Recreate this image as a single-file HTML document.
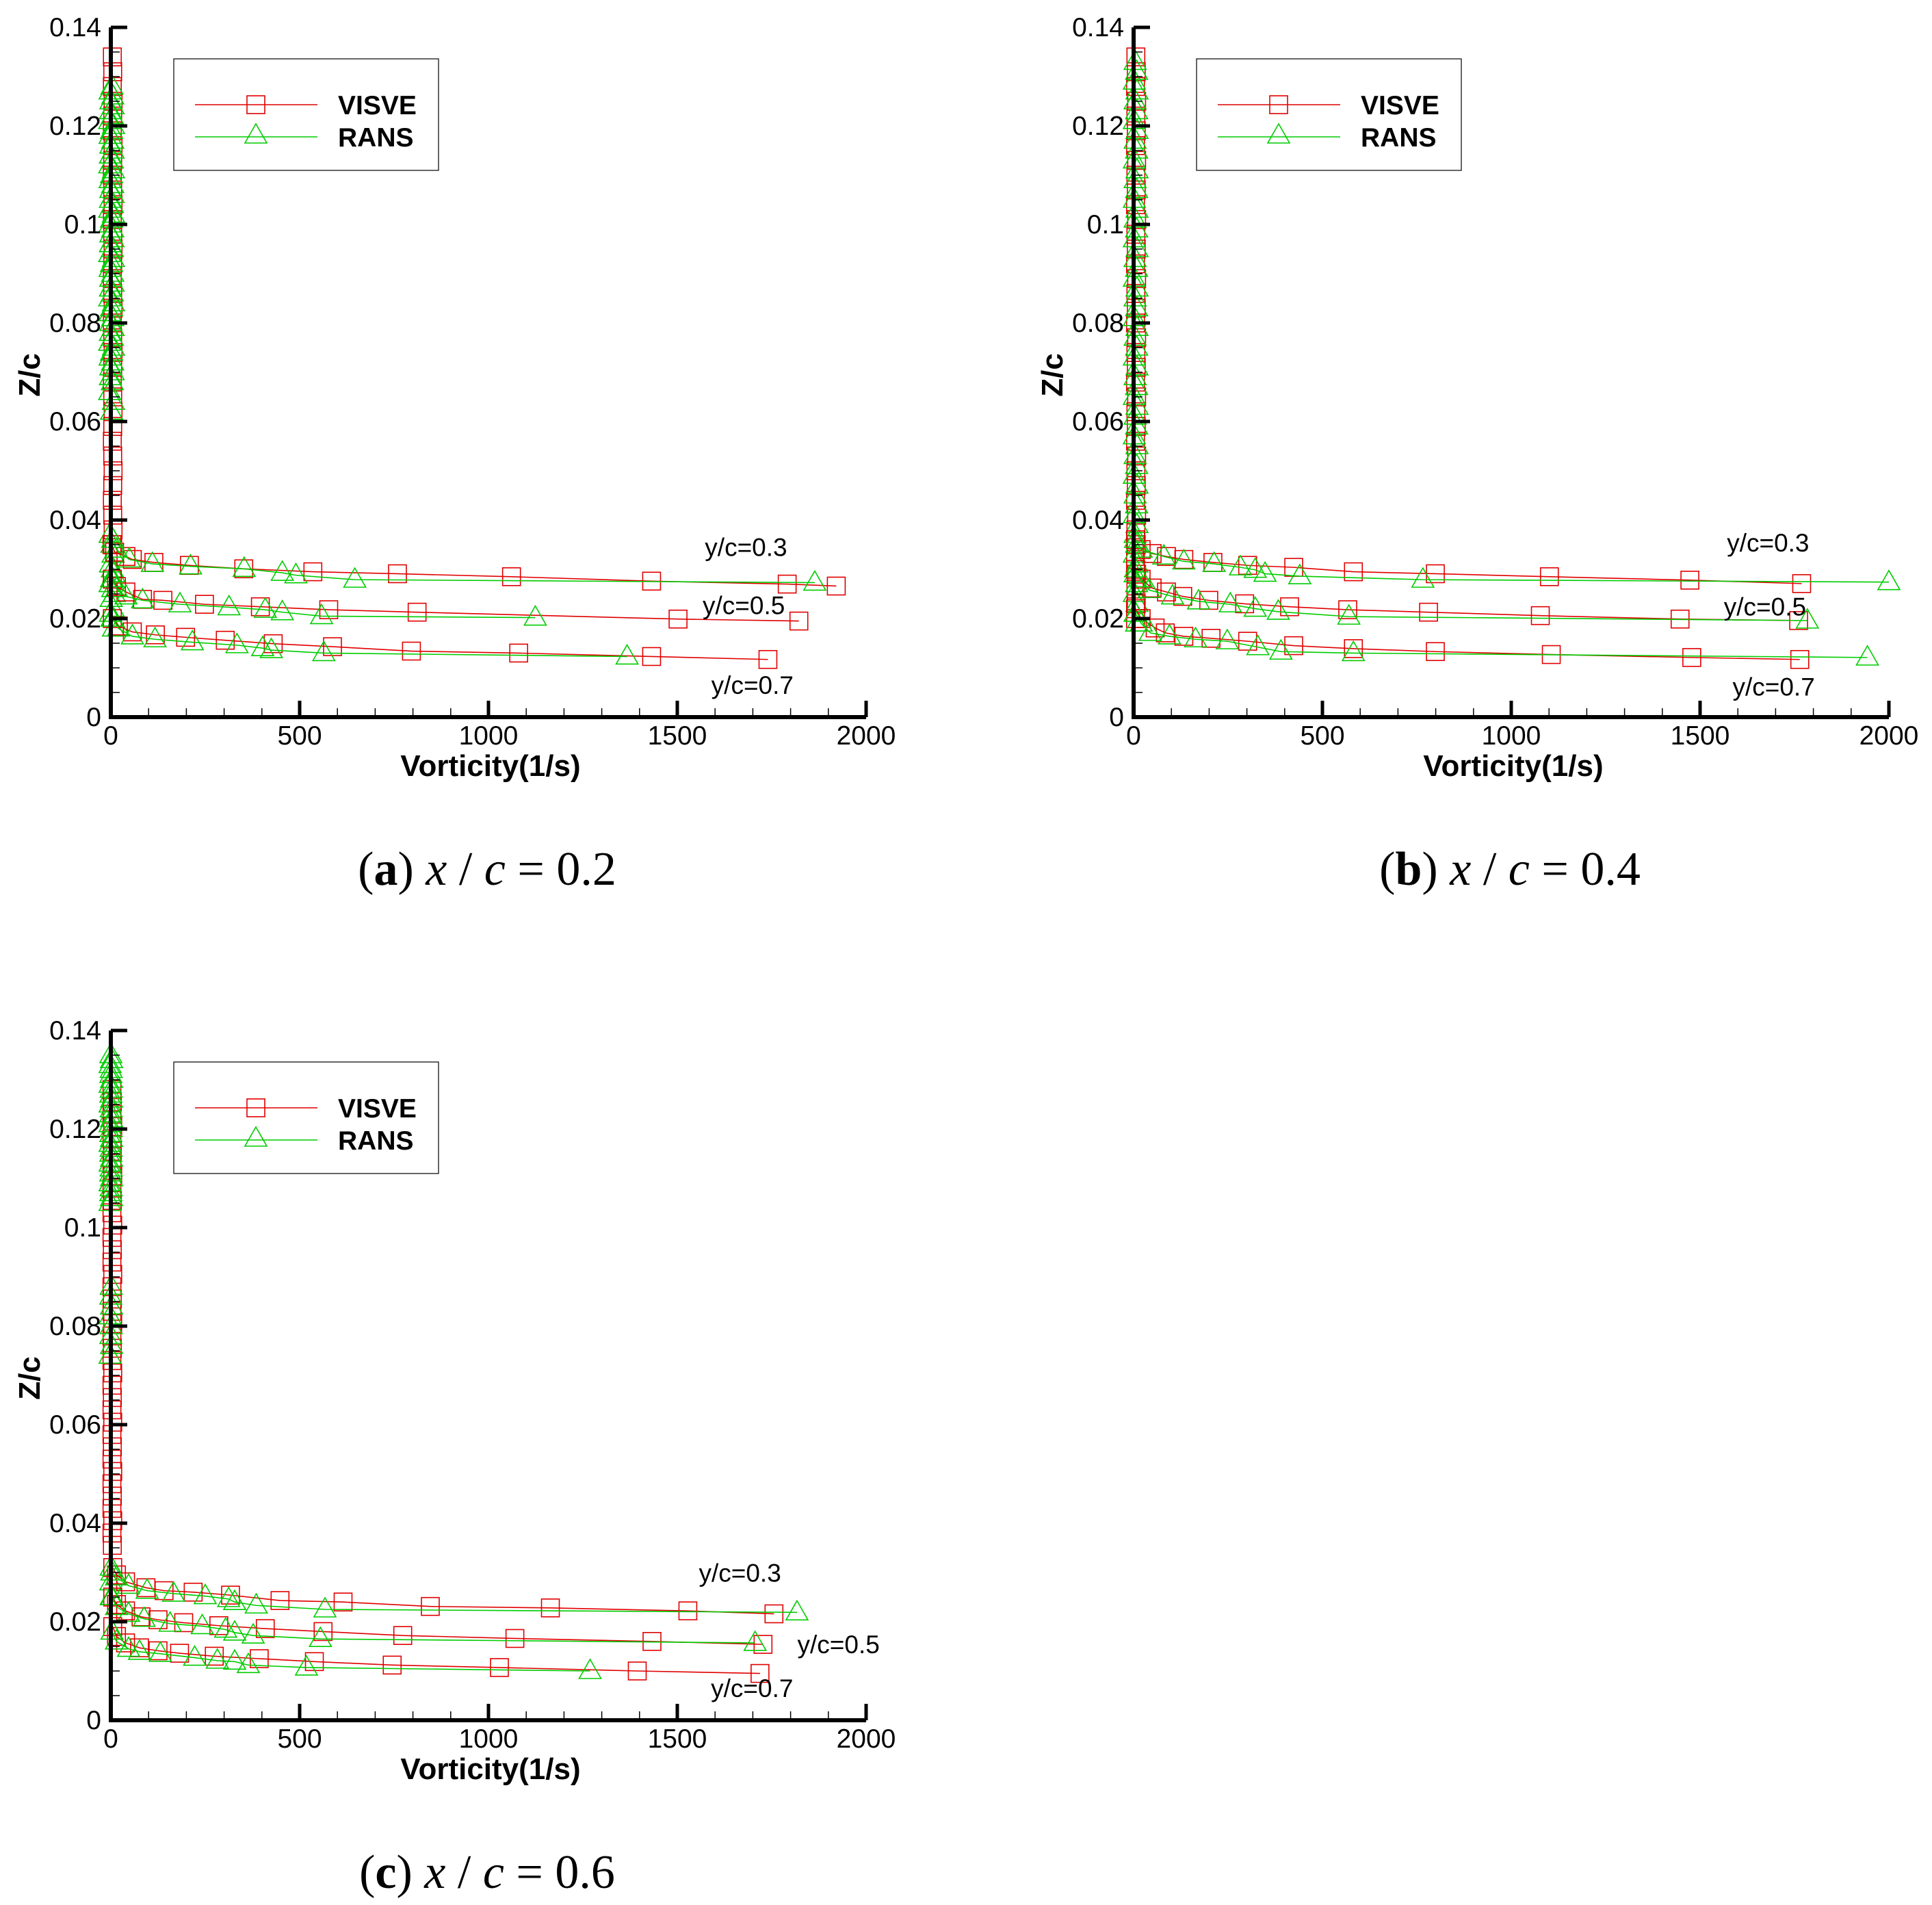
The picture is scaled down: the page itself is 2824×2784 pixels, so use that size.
<!DOCTYPE html>
<html><head><meta charset="utf-8"><style>
html,body{margin:0;padding:0;background:#fff;}
svg{display:block;}
</style></head><body>
<svg id="fig" xmlns="http://www.w3.org/2000/svg" width="2824" height="2784" viewBox="0 0 2824 2784">
<rect width="2824" height="2784" fill="#fff"/>
</svg>
<script>
// ---- data (vorticity in 1/s, z in z/c) ----
const xTicks = [0, 500, 1000, 1500, 2000];
const yTicks = [0, 0.02, 0.04, 0.06, 0.08, 0.1, 0.12, 0.14];
const yTickLabels = ["0", "0.02", "0.04", "0.06", "0.08", "0.1", "0.12", "0.14"];
const seriesNames = ["VISVE", "RANS"];
const stationLabels = ["y/c=0.3", "y/c=0.5", "y/c=0.7"];

// Panel a (x/c=0.2)
const aV3x = [3,10,40,57,114,208,352,535,759,1061,1432,1791,1921];
const aV3z = [0.035,0.0335,0.0326,0.032,0.0314,0.0308,0.0301,0.0295,0.0291,0.0285,0.0276,0.027,0.0266];
const aR3x = [5,15,49,110,211,353,454,490,646,1864];
const aR3z = [0.036,0.034,0.032,0.0311,0.0306,0.0301,0.0293,0.0288,0.0279,0.0273];
const aV5x = [4,15,40,84,138,248,396,577,811,1502,1822];
const aV5z = [0.028,0.0265,0.0254,0.0239,0.0237,0.0229,0.0224,0.0218,0.0213,0.0199,0.0195];
const aR5x = [5,15,40,84,183,313,409,454,558,1124];
const aR5z = [0.028,0.026,0.0245,0.0237,0.0229,0.0223,0.0218,0.0213,0.0205,0.0202];
const aV7x = [4,20,57,118,198,303,430,587,796,1080,1432,1740];
const aV7z = [0.02,0.0185,0.0173,0.0167,0.0162,0.0156,0.0149,0.0143,0.0134,0.013,0.0123,0.0117];
const aR7x = [5,20,57,117,216,334,402,425,564,1367];
const aR7z = [0.02,0.018,0.0164,0.0158,0.0152,0.0146,0.014,0.0136,0.013,0.0123];
const aVcolX = [4,5,4,6,5,4,6,5,4,5,6,4,5,6,5,4,5,6,4,5,6,5,4,5,6,5,4,5,6,5,4,5,6,5];
const aVcolZ = [0.134,0.131,0.128,0.125,0.122,0.119,0.116,0.113,0.11,0.107,0.104,0.101,0.098,0.095,0.092,0.089,0.086,0.083,0.08,0.077,0.074,0.071,0.068,0.065,0.062,0.059,0.056,0.053,0.05,0.047,0.044,0.041,0.038,0.035];
const aRcolX = [3,-2,5,0,6,-1,4,-3,7,2,-2,5,0,6,-1,4,-3,7,2,-2,5,0,6,-1,4,-3,7,2,-2,5,0,6,-1,4,-3,7,2,-2,5,0,6,-1,4,-3,7,2,-2,5,0,6,-1,4,-3,7,2,-2,5,0,6,-1,4,-3,7,2];
const aRcolZ = [0.128,0.127,0.126,0.125,0.124,0.123,0.122,0.121,0.12,0.119,0.118,0.117,0.116,0.115,0.114,0.113,0.112,0.111,0.11,0.109,0.108,0.107,0.106,0.105,0.104,0.103,0.102,0.101,0.1,0.099,0.098,0.097,0.096,0.095,0.094,0.093,0.092,0.091,0.09,0.089,0.088,0.087,0.086,0.085,0.084,0.083,0.082,0.081,0.08,0.079,0.078,0.077,0.076,0.075,0.074,0.073,0.072,0.071,0.07,0.069,0.068,0.066,0.064,0.062];
const aRclX = [-2,3,6,-1,4,8,2,-2,5,9,1,6,-1,3,7];
const aRclZ = [0.037,0.035,0.033,0.031,0.03,0.029,0.028,0.027,0.026,0.025,0.024,0.022,0.021,0.02,0.018];

// Panel b (x/c=0.4)
const bV3x = [5,20,49,87,133,210,302,424,582,799,1101,1473,1769];
const bV3z = [0.036,0.034,0.0332,0.0326,0.032,0.0314,0.0308,0.0304,0.0295,0.0291,0.0285,0.0278,0.0271];
const bR3x = [5,20,80,133,213,283,322,348,440,766,2000];
const bR3z = [0.036,0.034,0.0326,0.0316,0.0311,0.0304,0.0299,0.0291,0.0286,0.0279,0.0274];
const bV5x = [5,20,49,87,130,199,294,413,567,781,1077,1447,1761];
const bV5z = [0.03,0.028,0.0262,0.0254,0.0245,0.0237,0.023,0.0224,0.0218,0.0213,0.0206,0.0199,0.0196];
const bR5x = [5,20,41,103,172,256,322,383,570,1784];
const bR5z = [0.03,0.028,0.0258,0.0245,0.0235,0.0229,0.022,0.0214,0.0204,0.0196];
const bV7x = [5,20,57,84,133,205,302,424,582,799,1106,1478,1764];
const bV7z = [0.022,0.02,0.0181,0.0171,0.0164,0.016,0.0154,0.0145,0.0139,0.0133,0.0127,0.0121,0.0117];
const bR7x = [5,20,44,95,164,248,329,390,582,1943];
const bR7z = [0.021,0.019,0.0171,0.0164,0.0158,0.0154,0.0142,0.0133,0.013,0.0121];
const bVcolX = [6,7,5,8,6,7,5,8,6,7,5,8,6,7,5,8,6,7,5,8,6,7,5,8,6,7,5,8,6,7,5,8,6,7,5,8,6,7,5];
const bVcolZ = [0.134,0.131,0.128,0.125,0.122,0.119,0.116,0.113,0.11,0.107,0.104,0.101,0.098,0.095,0.092,0.089,0.086,0.083,0.08,0.077,0.074,0.071,0.068,0.065,0.062,0.059,0.056,0.053,0.05,0.047,0.044,0.041,0.038,0.035,0.032,0.029,0.026,0.023,0.02];
const bRcolX = [4,8,2,9,4,8,2,9,4,8,2,9,4,8,2,9,4,8,2,9,4,8,2,9,4,8,2,9,4,8,2,9,4,8,2,9,4,8,2,9,4,8,2,9,4,8,2,9,4,8,2,9,4,8,2,9,4,8];
const bRcolZ = [0.133,0.131,0.129,0.127,0.125,0.123,0.121,0.119,0.117,0.115,0.113,0.111,0.109,0.107,0.105,0.103,0.101,0.099,0.097,0.095,0.093,0.091,0.089,0.087,0.085,0.083,0.081,0.079,0.077,0.075,0.073,0.071,0.069,0.067,0.065,0.063,0.061,0.059,0.057,0.055,0.053,0.051,0.049,0.047,0.045,0.043,0.041,0.039,0.037,0.035,0.033,0.031,0.029,0.027,0.025,0.023,0.021,0.019];

// Panel c (x/c=0.6)
const cV3x = [5,15,39,93,141,218,317,448,615,846,1164,1528,1756];
const cV3z = [0.031,0.0295,0.0281,0.0269,0.0263,0.026,0.0254,0.0243,0.024,0.0231,0.0228,0.0222,0.0216];
const cR3x = [3,15,47,96,166,250,312,328,385,567,1817];
const cR3z = [0.03,0.029,0.0273,0.0263,0.0257,0.0252,0.0246,0.024,0.0233,0.0225,0.0219];
const cV5x = [5,15,39,80,125,193,286,409,562,773,1070,1433,1727];
const cV5z = [0.025,0.0235,0.0222,0.021,0.0204,0.0198,0.0192,0.0186,0.018,0.0172,0.0166,0.016,0.0154];
const cR5x = [3,15,47,88,157,242,304,328,377,555,1706];
const cR5z = [0.025,0.023,0.0216,0.0206,0.0196,0.0191,0.0184,0.0178,0.0172,0.0165,0.0157];
const cV7x = [5,15,39,76,125,182,274,393,539,745,1029,1394,1719];
const cV7z = [0.019,0.017,0.0157,0.0147,0.0141,0.0136,0.013,0.0125,0.0119,0.0112,0.0107,0.01,0.0095];
const cR7x = [3,15,47,76,131,222,282,328,364,518,1269];
const cR7z = [0.018,0.016,0.0145,0.0139,0.0135,0.0127,0.0121,0.0119,0.0112,0.0107,0.01];
const cVcolX = [3,4,3,5,3,4,3,5,3,4,3,5,3,4,3,5,3,4,3,5,3,4,3,5,3,4,3,5,3,4,3,5,3,4,3,5,3,4];
const cVcolZ = [0.128,0.1255,0.123,0.1205,0.118,0.1155,0.113,0.1105,0.108,0.1055,0.103,0.1005,0.098,0.0955,0.093,0.0905,0.088,0.0855,0.083,0.0805,0.078,0.0755,0.073,0.0705,0.068,0.0655,0.063,0.0605,0.058,0.0555,0.053,0.0505,0.048,0.0455,0.043,0.0405,0.038,0.0355];
const cRcolX = [0,2,-2,1,0,2,-2,1,0,2,-2,1,0,2,-2,1,0,2,-2,1,0,2,-2,1,0,2,-2,1,0,2,-2,1,0,2,-2,1,0,2,-2,1,0,1];
const cRcolZ = [0.135,0.134,0.133,0.132,0.131,0.13,0.129,0.128,0.127,0.126,0.125,0.124,0.123,0.122,0.121,0.12,0.119,0.118,0.117,0.116,0.115,0.114,0.113,0.112,0.111,0.11,0.109,0.108,0.107,0.106,0.105,0.088,0.086,0.084,0.082,0.08,0.078,0.076,0.074,0.031,0.028,0.025];

const NS = "http://www.w3.org/2000/svg";
const svg = document.getElementById('fig');
const RED = "#e00000", GREEN = "#00cc00";
const W = 1104, H = 1008;

function mk(tag, attrs, parent) {
  const e = document.createElementNS(NS, tag);
  for (const k in attrs) e.setAttribute(k, attrs[k]);
  (parent || svg).appendChild(e);
  return e;
}
function square(g, x, y, color) {
  const s = mk('rect', {x: x - 13, y: y - 13, width: 26, height: 26, fill: 'none', stroke: color, 'stroke-width': 1.6}, g);
  
  
}
function tri(g, x, y, color) {
  const t = mk('polygon', {points: `${x},${y - 17} ${x - 16},${y + 11} ${x + 16},${y + 11}`, fill: 'none', stroke: color, 'stroke-width': 1.6}, g);
  
  
}

function drawPanel(ox, oy, letter, xc, curves, cols, labels) {
  const sx = v => ox + v / 2000 * W;
  const sy = z => oy - z / 0.14 * H;
  const g = mk('g', {});
  
  

  cols.forEach(c => {
    const cg = mk('g', {}, g);
    
    
    c.x.forEach((v, i) => c.square ? square(cg, sx(v), sy(c.z[i]), c.color) : tri(cg, sx(v), sy(c.z[i]), c.color));
  });
  curves.forEach(c => {
    const cg = mk('g', {}, g);
    
    
    const pts = c.x.map((v, i) => sx(v) + ',' + sy(c.z[i])).join(' ');
    const pl = mk('polyline', {points: pts, fill: 'none', stroke: c.color, 'stroke-width': 1.6}, cg);
    
    
    c.x.forEach((v, i) => c.square ? square(cg, sx(v), sy(c.z[i]), c.color) : tri(cg, sx(v), sy(c.z[i]), c.color));
  });

  const ax = mk('g', {}, g);
  
  
  mk('line', {x1: ox, y1: oy + 3, x2: ox, y2: sy(0.14), stroke: '#000', 'stroke-width': 6}, ax);
  mk('line', {x1: ox - 3, y1: oy, x2: sx(2000), y2: oy, stroke: '#000', 'stroke-width': 6}, ax);
  for (let v = 100; v < 2000; v += 100) {
    if (v % 500 === 0) continue;
    mk('line', {x1: sx(v), y1: oy, x2: sx(v), y2: oy - 13, stroke: '#000', 'stroke-width': 1.5}, ax);
  }
  for (let z = 0.005; z < 0.14; z += 0.005) {
    if (Math.abs(z / 0.02 - Math.round(z / 0.02)) < 1e-6) continue;
    mk('line', {x1: ox, y1: sy(z), x2: ox + 13, y2: sy(z), stroke: '#000', 'stroke-width': 1.5}, ax);
  }
  xTicks.forEach(v => {
    if (v > 0) mk('line', {x1: sx(v), y1: oy, x2: sx(v), y2: oy - 24, stroke: '#000', 'stroke-width': 5}, ax);
    const t = mk('text', {x: sx(v), y: oy + 40, 'text-anchor': 'middle', 'font-family': 'Liberation Sans, sans-serif', 'font-size': 39}, ax);
    t.textContent = String(v);
    
    
  });
  yTicks.forEach((z, i) => {
    if (z > 0) mk('line', {x1: ox, y1: sy(z), x2: ox + 24, y2: sy(z), stroke: '#000', 'stroke-width': 5}, ax);
    const t = mk('text', {x: ox - 14, y: sy(z) + 13, 'text-anchor': 'end', 'font-family': 'Liberation Sans, sans-serif', 'font-size': 39}, ax);
    t.textContent = yTickLabels[i];
    
    
  });
  const xt = mk('text', {x: ox + 555, y: oy + 86, 'text-anchor': 'middle', 'font-family': 'Liberation Sans, sans-serif', 'font-size': 44, 'font-weight': 'bold'}, g);
  xt.textContent = 'Vorticity(1/s)';
  
  
  const yt = mk('text', {x: 0, y: 0, 'text-anchor': 'middle', 'font-family': 'Liberation Sans, sans-serif', 'font-size': 44, 'font-weight': 'bold', transform: `translate(${ox - 104},${oy - 500}) rotate(-90)`}, g);
  yt.textContent = 'Z/c';
  
  

  labels.forEach((l, i) => {
    const t = mk('text', {x: sx(l[0]), y: sy(l[1]) + 13, 'text-anchor': 'middle', 'font-family': 'Liberation Sans, sans-serif', 'font-size': 37}, g);
    t.textContent = stationLabels[i];
    
    
  });

  const lg = mk('g', {}, g);
  
  
  const top = sy(0.14);
  mk('rect', {x: ox + 92, y: top + 46, width: 387, height: 163, fill: '#fff', stroke: '#000', 'stroke-width': 1.2}, lg);
  [[RED, true, 113], [GREEN, false, 160]].forEach((e, i) => {
    const eg = mk('g', {}, lg);
    
    
    mk('line', {x1: ox + 123, y1: top + e[2], x2: ox + 302, y2: top + e[2], stroke: e[0], 'stroke-width': 1.4}, eg);
    e[1] ? square(eg, ox + 212, top + e[2], e[0]) : tri(eg, ox + 212, top + e[2] - 2, e[0]);
    const t = mk('text', {x: ox + 332, y: top + e[2] + 14, 'font-family': 'Liberation Sans, sans-serif', 'font-size': 39, 'font-weight': 'bold'}, eg);
    t.textContent = seriesNames[i];
    
    
  });

  const cap = mk('text', {x: ox + 550, y: oy + 245, 'text-anchor': 'middle', 'font-family': 'Liberation Serif, serif', 'font-size': 70}, g);
  
  
  const s1 = mk('tspan', {}, cap); s1.textContent = '(';
  const s2 = mk('tspan', {'font-weight': 'bold'}, cap); s2.textContent = letter;
  const s3 = mk('tspan', {}, cap); s3.textContent = ') ';
  const s4 = mk('tspan', {'font-style': 'italic'}, cap); s4.textContent = 'x';
  const s5 = mk('tspan', {}, cap); s5.textContent = ' / ';
  const s6 = mk('tspan', {'font-style': 'italic'}, cap); s6.textContent = 'c';
  const s7 = mk('tspan', {}, cap); s7.textContent = ' = ' + xc;
}

function C(name, x, z, color, sq) { return {name, x, z, color, square: sq}; }

drawPanel(162, 1048, 'a', '0.2', [
  C('visve-y03', aV3x, aV3z, RED, true), C('rans-y03', aR3x, aR3z, GREEN, false),
  C('visve-y05', aV5x, aV5z, RED, true), C('rans-y05', aR5x, aR5z, GREEN, false),
  C('visve-y07', aV7x, aV7z, RED, true), C('rans-y07', aR7x, aR7z, GREEN, false)
], [
  {x: aVcolX, z: aVcolZ, color: RED, square: true},
  {x: aRcolX, z: aRcolZ, color: GREEN, square: false},
  {x: aRclX, z: aRclZ, color: GREEN, square: false}
], [[1682, 0.0345], [1676, 0.0227], [1699, 0.0065]]);

drawPanel(1657, 1048, 'b', '0.4', [
  C('visve-y03', bV3x, bV3z, RED, true), C('rans-y03', bR3x, bR3z, GREEN, false),
  C('visve-y05', bV5x, bV5z, RED, true), C('rans-y05', bR5x, bR5z, GREEN, false),
  C('visve-y07', bV7x, bV7z, RED, true), C('rans-y07', bR7x, bR7z, GREEN, false)
], [
  {x: bVcolX, z: bVcolZ, color: RED, square: true},
  {x: bRcolX, z: bRcolZ, color: GREEN, square: false}
], [[1680, 0.0354], [1672, 0.0224], [1695, 0.0062]]);

drawPanel(162, 2514, 'c', '0.6', [
  C('visve-y03', cV3x, cV3z, RED, true), C('rans-y03', cR3x, cR3z, GREEN, false),
  C('visve-y05', cV5x, cV5z, RED, true), C('rans-y05', cR5x, cR5z, GREEN, false),
  C('visve-y07', cV7x, cV7z, RED, true), C('rans-y07', cR7x, cR7z, GREEN, false)
], [
  {x: cVcolX, z: cVcolZ, color: RED, square: true},
  {x: cRcolX, z: cRcolZ, color: GREEN, square: false}
], [[1666, 0.0299], [1927, 0.0154], [1698, 0.0065]]);
</script>
</body></html>
